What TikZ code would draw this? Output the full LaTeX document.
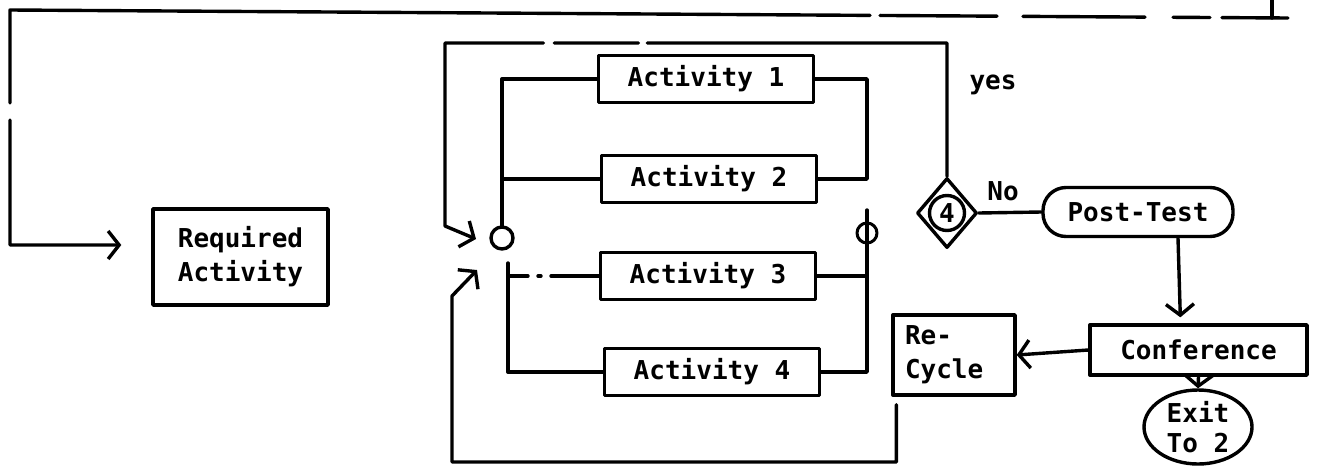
\documentclass[tikz,border=0pt]{standalone}
\usepackage{fontspec}
\newfontfamily\lblfont{DejaVu Sans Mono}
\usetikzlibrary{arrows.meta,shapes.geometric}
\begin{document}
\begin{tikzpicture}[x=1pt,y=-1pt,
  line width=3.4pt, line cap=round, line join=round,
  txt/.style={font=\lblfont\bfseries\fontsize{26}{34}\selectfont, inner sep=0pt},
  box/.style={draw, txt, rectangle, align=center},
  actbox/.style={box, minimum width=215pt, minimum height=47pt},
  flow/.style={-{Straight Barb[length=11pt,width=28pt]}},
]
\useasboundingbox (0,0) rectangle (1319,469);

% entry box
\node[box, minimum width=175pt, minimum height=96pt] (req) at (240.5,257) {Required\\Activity};

% the four alternative activities
\node[actbox] (a1) at (706,79) {Activity 1};
\node[actbox] (a2) at (709,179) {Activity 2};
\node[actbox] (a3) at (708,276) {Activity 3};
\node[actbox] (a4) at (712,372) {Activity 4};

% junction points
\node[circle, draw, minimum size=22pt, inner sep=0pt] (c1) at (502,238) {};
\node[circle, draw, line width=3pt, minimum size=20pt, inner sep=0pt] (c2) at (867,233) {};

% decision
\node[diamond, draw, minimum width=60pt, minimum height=70pt, inner sep=0pt] (dia) at (947,213) {};
\node[circle, draw, txt, minimum size=35pt] (q4) at (947,213) {4};
\node[txt] (yes) at (993,85) {yes};
\node[txt] (no) at (1003,191) {No};

% right-hand chain
\node[draw, txt, rounded corners=23pt, minimum width=190pt, minimum height=49pt] (pt) at (1138,212) {Post-Test};
\node[box, minimum width=217pt, minimum height=50pt] (conf) at (1198.5,350) {Conference};
\node[draw, txt, align=left, text width=98pt, inner xsep=12pt, minimum height=80pt] (rc) at (954,355) {Re-\\Cycle};
\node[draw, ellipse, font=\lblfont\bfseries\fontsize{26}{30}\selectfont, inner sep=0pt, align=center, minimum width=108pt, minimum height=74pt] (ex) at (1198,427) {Exit\\To 2};

% helper coordinates
\coordinate (top) at (1272,0);
\coordinate (tr) at (1288,18);
\coordinate (tl) at (10,10);
\coordinate (ul) at (445,43);
\coordinate (ulb) at (445,226);
\coordinate (in1) at (476,239);
\coordinate (lb) at (508,263);
\coordinate (rb) at (867,0);
\coordinate (rt) at (867,210);
\coordinate (lbl) at (452,462);
\coordinate (lbu) at (452,296);
\coordinate (in2) at (477,270);

% incoming line from above into the required activity
\draw (top) -- (top |- tr);
\draw[flow, shorten >=30pt,
  dash pattern=on 66pt off 12pt on 37pt off 28pt on 122pt off 26pt on 117pt off 10pt on 953pt off 17pt on 2000pt off 0pt]
  (tr) -- (tl) |- ([yshift=12pt]req.west);

% fan out to the activities
\draw (c1.north) |- (a1.west);
\draw (c1.north) |- (a2.west);
\draw (lb) |- (a4.west);
\draw[dash pattern=on 20pt off 10pt on 3pt off 10pt on 60pt off 0pt] (lb |- a3.west) -- (a3.west);

% fan in from the activities
\draw (a1.east) -- (a1.east -| rb) -- (a2.east -| rb) -- (a2.east);
\draw (rt) -- (rt |- a4.east) -- (a4.east);
\draw (a3.east) -- (a3.east -| rb);

% "yes" loop back to the junction
\draw[flow, dash pattern=on 433pt off 9pt on 84pt off 11pt on 2000pt off 0pt]
  (dia.north) |- (ul) -- (ulb) -- (in1);

% "No" branch
\draw (dia.east) -- (pt.west);
\draw[flow, shorten >=6pt] ([xshift=40pt]pt.south) -- ([xshift=-18pt]conf.north);
\draw[flow] (conf.west) -- (rc.east);
\draw[flow] (conf.south) -- (ex.north);

% recycle loop back to the junction
\draw[flow] ([xshift=5pt,yshift=-8pt]rc.south west) |- (lbl) -- (lbu) -- (in2);
\end{tikzpicture}
\end{document}
